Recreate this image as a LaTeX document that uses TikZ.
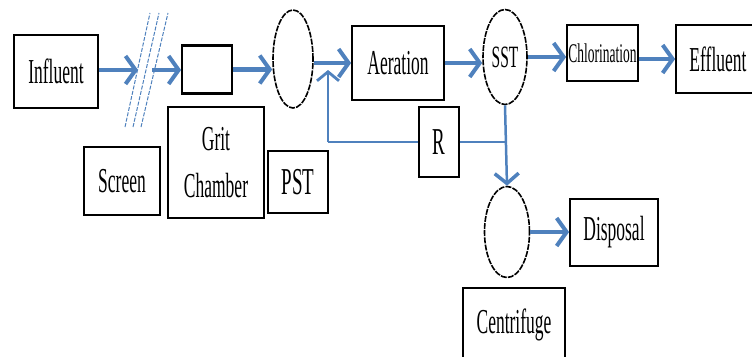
\documentclass[tikz,border=0pt]{standalone}
\usepackage{fontspec}
\setmainfont[FakeStretch=0.5]{Liberation Serif}
\usepackage{tikz}
\usetikzlibrary{shapes,arrows.meta}
\definecolor{pipeblue}{RGB}{79,129,189}
\tikzstyle{unit} = [draw, line width=1.8pt, rectangle, text centered, inner sep=0pt, font=\fontsize{35}{47}\selectfont]
\tikzstyle{tank} = [draw, line width=1.6pt, dash pattern=on 6pt off 1.2pt, ellipse, inner sep=0pt, font=\fontsize{31}{34}\selectfont]
\tikzstyle{flow} = [draw=pipeblue, line width=4.5pt, -{Straight Barb[length=10pt,width=28pt,line width=4pt]}]
\tikzstyle{return} = [draw=pipeblue, line width=2pt]
\tikzstyle{grid} = [draw=pipeblue, line width=1pt, dash pattern=on 4pt off 1.5pt]

\begin{document}
\begin{tikzpicture}[x=1pt, y=-1pt]
\clip (0,0) rectangle (752,356);
\useasboundingbox (0,0) rectangle (752,356);
% main line
\node[unit, minimum width=84, minimum height=73] (influent) at (56,71.5) {Influent};
\node[unit, minimum width=50, minimum height=47] (grit) at (207,69.5) {};
\node[tank, minimum width=40, minimum height=98] (pst) at (293,59) {};
\node[unit, minimum width=92, minimum height=74] (aeration) at (398,63) {Aeration};
\node[tank, minimum width=44, minimum height=95] (sst) at (505,57) {SST};
\node[unit, minimum width=71, minimum height=56, font=\fontsize{27}{30}\selectfont] (chlor) at (602.5,53) {Chlorination};
\node[unit, minimum width=84, minimum height=68] (effluent) at (718,59) {Effluent};
\node[unit, minimum width=40, minimum height=70, font=\fontsize{38}{40}\selectfont] (recycle) at (439,142) {R};
\node[tank, minimum width=45, minimum height=91] (centrifuge) at (507,232) {};
\node[unit, minimum width=88, minimum height=67] (disposal) at (614,232.5) {Disposal};
% labels
\node[unit, minimum width=76, minimum height=68] (screenlbl) at (122,181) {Screen};
\node[unit, minimum width=96, minimum height=111, align=center] (gritlbl) at (216,162.5) {Grit\\Chamber};
\node[unit, minimum width=60, minimum height=62, font=\fontsize{38}{40}\selectfont] (pstlbl) at (298,182) {PST};
\node[unit, minimum width=102, minimum height=74] (centlbl) at (514,325) {Centrifuge};
\draw[line width=3pt] (grit.north west) -- (grit.north east);
\draw[line width=3pt] (grit.south west) -- (grit.south east);
% screen bars
\coordinate (barA) at (125,127);
\coordinate (barB) at (133,127);
\coordinate (barC) at (141,127);
\coordinate (topA) at (150,13);
\coordinate (topB) at (159,13);
\coordinate (topC) at (168,13);
\draw[grid] (barA) -- (topA);
\draw[grid] (barB) -- (topB);
\draw[grid] (barC) -- (topC);
\coordinate (screenin) at (138,70);
\coordinate (screenout) at (152,70);
% flows
\draw[flow] (influent.east |- screenin) -- (screenin);
\draw[flow] (screenout) -- (screenout -| grit.west);
\draw[flow] (grit.east) -- (grit.east -| pst.west);
\draw[flow] (pst.east |- aeration.west) -- (aeration.west);
\draw[flow] (aeration.east) -- (aeration.east -| sst.west);
\draw[flow] (sst.east) -- (sst.east -| chlor.west);
\draw[flow] (chlor.east |- effluent.west) -- (effluent.west);
\draw[flow] (centrifuge.east) -- (centrifuge.east -| disposal.west);
% return sludge
\coordinate (retturn) at (328,142);
\coordinate (retin) at (328,70);
\coordinate (split) at (sst.south |- recycle.east);
\draw[return] (recycle.west) -- (retturn);
\draw[return, -{Straight Barb[length=9pt,width=22pt,line width=2.8pt]}] (retturn) -- (retin);
\draw[return] (recycle.east) -- (split);
\draw[return, line width=2.5pt, -{Straight Barb[length=10pt,width=24pt,line width=3.5pt]}] (sst.south) -- (centrifuge.north);
\end{tikzpicture}
\end{document}
